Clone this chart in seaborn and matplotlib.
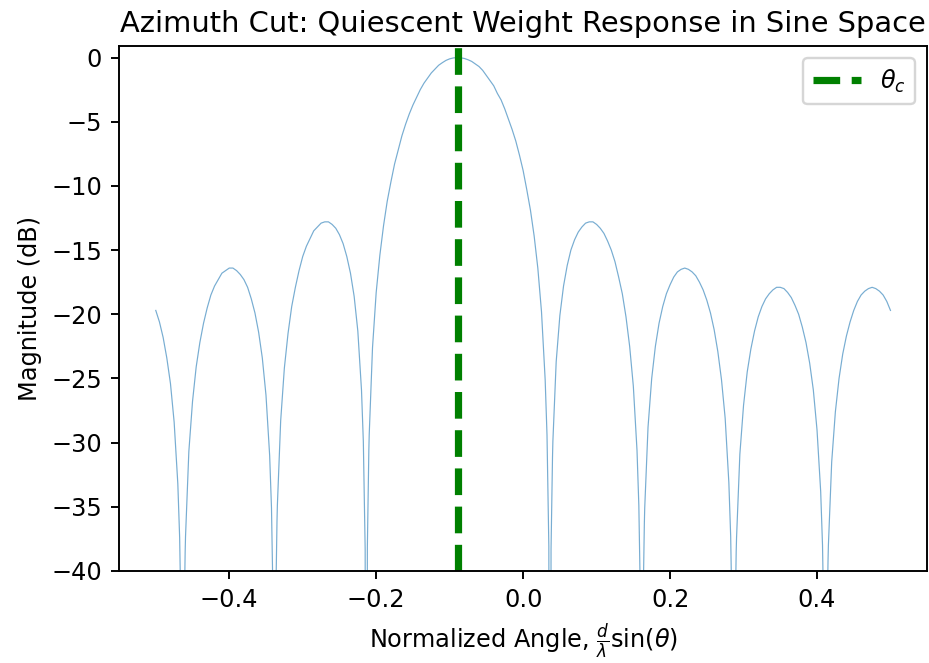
import matplotlib
matplotlib.use("Agg")
import matplotlib.pyplot as plt
import seaborn as sns
import pandas as pd

angle = [
    -0.5, -0.495, -0.49, -0.485, -0.48, -0.475, -0.47, -0.4675, -0.465, -0.4635,
    -0.462, -0.46, -0.4595, -0.455, -0.45, -0.445, -0.44, -0.435, -0.43, -0.425,
    -0.42, -0.415, -0.41, -0.405, -0.4, -0.395, -0.39, -0.385, -0.38, -0.375,
    -0.37, -0.365, -0.36, -0.355, -0.35, -0.345, -0.3425, -0.34, -0.3385, -0.337,
    -0.335, -0.3345, -0.33, -0.325, -0.32, -0.315, -0.31, -0.305, -0.3, -0.295,
    -0.29, -0.285, -0.28, -0.275, -0.27, -0.265, -0.26, -0.255, -0.25, -0.245,
    -0.24, -0.235, -0.23, -0.225, -0.22, -0.2175, -0.215, -0.2135, -0.212, -0.21,
    -0.2095, -0.205, -0.2, -0.195, -0.19, -0.185, -0.18, -0.175, -0.17, -0.165,
    -0.16, -0.155, -0.15, -0.145, -0.14, -0.135, -0.13, -0.125, -0.12, -0.115,
    -0.11, -0.105, -0.1, -0.095, -0.09, -0.085, -0.08, -0.075, -0.07, -0.065,
    -0.06, -0.055, -0.05, -0.045, -0.04, -0.035, -0.03, -0.025, -0.02, -0.015,
    -0.01, -0.005, 0.0, 0.005, 0.01, 0.015, 0.02, 0.025, 0.03, 0.0325,
    0.035, 0.0365, 0.038, 0.04, 0.0405, 0.045, 0.05, 0.055, 0.06, 0.065,
    0.07, 0.075, 0.08, 0.085, 0.09, 0.095, 0.1, 0.105, 0.11, 0.115,
    0.12, 0.125, 0.13, 0.135, 0.14, 0.145, 0.15, 0.155, 0.1575, 0.16,
    0.1615, 0.163, 0.165, 0.1655, 0.17, 0.175, 0.18, 0.185, 0.19, 0.195,
    0.2, 0.205, 0.21, 0.215, 0.22, 0.225, 0.23, 0.235, 0.24, 0.245,
    0.25, 0.255, 0.26, 0.265, 0.27, 0.275, 0.28, 0.2825, 0.285, 0.2865,
    0.288, 0.29, 0.2905, 0.295, 0.3, 0.305, 0.31, 0.315, 0.32, 0.325,
    0.33, 0.335, 0.34, 0.345, 0.35, 0.355, 0.36, 0.365, 0.37, 0.375,
    0.38, 0.385, 0.39, 0.395, 0.4, 0.405, 0.4075, 0.41, 0.4115, 0.413,
    0.415, 0.4155, 0.42, 0.425, 0.43, 0.435, 0.44, 0.445, 0.45, 0.455,
    0.46, 0.465, 0.47, 0.475, 0.48, 0.485, 0.49, 0.495, 0.5,
]

# Magnitude in dB at each angle (nulls drop far below the -40 dB floor)
magnitude_db = [
    -19.7, -20.6, -21.8, -23.4, -25.4, -28.4, -33.2, -37.4, -45.9, -100.0,
    -45.8, -38.5, -37.3, -30.7, -26.8, -24.1, -22.2, -20.7, -19.5, -18.5,
    -17.8, -17.3, -16.8, -16.6, -16.4, -16.4, -16.6, -16.9, -17.3, -17.9,
    -18.8, -19.9, -21.4, -23.4, -26.3, -31.0, -35.1, -43.6, -100.0, -43.5,
    -36.1, -34.9, -28.3, -24.2, -21.5, -19.4, -17.9, -16.6, -15.5, -14.7,
    -14.1, -13.5, -13.2, -12.9, -12.8, -12.8, -13.0, -13.3, -13.8, -14.5,
    -15.5, -16.8, -18.6, -21.3, -25.9, -29.9, -38.3, -100.0, -38.1, -30.6,
    -29.4, -22.6, -18.3, -15.4, -13.1, -11.2, -9.7, -8.3, -7.2, -6.1,
    -5.2, -4.4, -3.7, -3.1, -2.5, -2.0, -1.6, -1.2, -0.9, -0.6,
    -0.4, -0.22, -0.1, -0.03, -0.0, -0.02, -0.07, -0.17, -0.3, -0.5,
    -0.7, -1.0, -1.4, -1.8, -2.2, -2.8, -3.3, -4.0, -4.8, -5.6,
    -6.5, -7.6, -8.8, -10.3, -11.9, -13.9, -16.4, -19.8, -25.1, -29.4,
    -38.1, -100.0, -38.3, -31.1, -29.9, -23.7, -20.1, -17.8, -16.2, -15.0,
    -14.2, -13.6, -13.2, -12.9, -12.8, -12.8, -13.0, -13.3, -13.7, -14.3,
    -15.0, -15.9, -17.1, -18.4, -20.2, -22.5, -25.6, -30.6, -34.9, -43.5,
    -100.0, -43.6, -36.3, -35.1, -28.8, -25.0, -22.5, -20.7, -19.4, -18.4,
    -17.7, -17.1, -16.7, -16.5, -16.4, -16.5, -16.7, -17.0, -17.5, -18.1,
    -18.9, -19.9, -21.2, -22.9, -25.1, -28.1, -33.1, -37.3, -45.8, -100.0,
    -45.9, -38.5, -37.4, -30.9, -27.1, -24.5, -22.7, -21.3, -20.2, -19.4,
    -18.8, -18.4, -18.1, -17.9, -17.9, -18.0, -18.3, -18.7, -19.3, -20.0,
    -21.0, -22.2, -23.8, -25.9, -29.0, -33.8, -38.0, -46.5, -100.0, -46.5,
    -39.2, -38.0, -31.5, -27.6, -25.0, -23.1, -21.7, -20.6, -19.7, -19.0,
    -18.5, -18.2, -18.0, -17.9, -18.0, -18.2, -18.5, -19.0, -19.7,
]

# Steering (look) direction
theta_c = -0.0885

title = "Azimuth Cut: Quiescent Weight Response in Sine Space"
xlabel = r"Normalized Angle, $\frac{d}{\lambda}$sin($\theta$)"
ylabel = "Magnitude (dB)"
legend_label = r"$\theta_c$"

df = pd.DataFrame({"angle": angle, "mag": magnitude_db})

plt.rcParams["font.family"] = ["DejaVu Sans"]
DPI = 173
fig, ax = plt.subplots(figsize=(930 / DPI, 663 / DPI), dpi=DPI)

sns.lineplot(data=df, x="angle", y="mag", ax=ax, color="#1f77b4",
             linewidth=0.5, alpha=0.6, sort=False, estimator=None)
ax.axvline(theta_c, color="green", linestyle="--", linewidth=3,
           label=legend_label)

ax.set_xlim(-0.55, 0.55)
ax.set_ylim(-40, 0.9)
ax.set_title(title, fontsize=12)
ax.set_xlabel(xlabel, fontsize=10)
ax.set_ylabel(ylabel, fontsize=10)
ax.tick_params(labelsize=10)
ax.legend(loc="upper right", fontsize=10)

fig.subplots_adjust(left=0.128, right=0.997, top=0.9306, bottom=0.1388)
fig.savefig("out.png", dpi=DPI)
